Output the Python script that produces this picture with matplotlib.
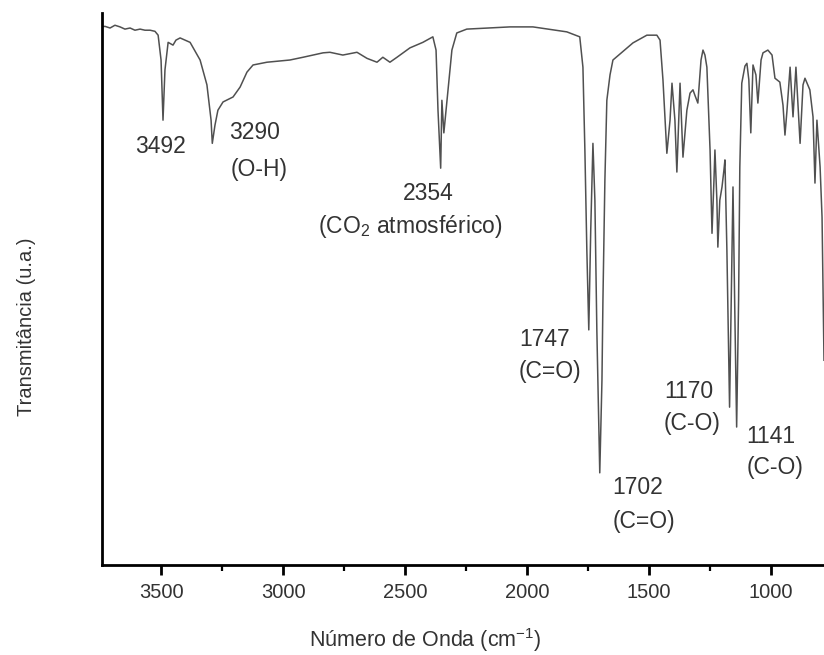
import matplotlib
matplotlib.use('Agg')
import matplotlib.pyplot as plt
from matplotlib.ticker import MultipleLocator

# FTIR spectrum: wavenumber (cm-1) and transmittance (a.u., 0-100)
WAVENUMBER = [
    3744, 3730, 3709, 3689, 3668, 3648, 3627, 3607, 3586, 3566, 3545, 3525, 3512,
    3500, 3492, 3484, 3471, 3451, 3439, 3422, 3381, 3340, 3312, 3295, 3290, 3279,
    3267, 3246, 3205, 3176, 3148, 3123, 3066, 2972, 2918, 2836, 2808, 2755, 2697,
    2656, 2615, 2591, 2562, 2533, 2480, 2427, 2386, 2373, 2365, 2354, 2349, 2341,
    2324, 2308, 2288, 2247, 2070, 1976, 1837, 1784, 1771, 1763, 1755, 1747, 1739,
    1730, 1722, 1714, 1702, 1693, 1689, 1681, 1673, 1660, 1648, 1566, 1509, 1468,
    1455, 1443, 1427, 1414, 1406, 1394, 1386, 1373, 1361, 1345, 1332, 1320, 1312,
    1300, 1287, 1279, 1271, 1263, 1250, 1242, 1234, 1230, 1222, 1218, 1210, 1201,
    1193, 1189, 1181, 1170, 1163, 1156, 1148, 1141, 1133, 1128, 1120, 1107, 1099,
    1091, 1083, 1074, 1062, 1054, 1041, 1033, 1013, 996, 984, 964, 951, 943, 935,
    922, 910, 898, 881, 869, 861, 841, 828, 820, 812, 799, 791, 783,
]
TRANSMITTANCE = [
    97.5, 97.6, 97.3, 97.8, 97.5, 97.1, 97.3, 96.9, 97.1, 96.9, 96.9, 96.7, 96.0,
    91.5, 80.6, 89.7, 94.7, 94.2, 95.1, 95.5, 94.7, 91.5, 87.0, 80.6, 76.4, 79.7,
    82.4, 83.9, 84.8, 86.6, 89.3, 90.6, 91.1, 91.5, 92.0, 92.8, 92.9, 92.4, 92.9,
    91.8, 91.1, 92.0, 91.1, 92.0, 93.7, 94.7, 95.7, 93.3, 82.4, 71.9, 84.2, 78.3,
    86.0, 93.3, 96.4, 97.1, 97.5, 97.5, 96.6, 95.7, 90.2, 75.2, 57.1, 42.6, 60.7,
    76.4, 66.1, 42.6, 16.7, 33.5, 48.0, 69.7, 84.2, 88.8, 91.5, 94.6, 96.0, 96.0,
    95.1, 87.9, 74.6, 80.6, 87.3, 80.6, 71.2, 87.3, 73.9, 82.4, 85.5, 86.1, 85.1,
    83.7, 91.5, 93.3, 92.4, 90.2, 75.2, 60.1, 69.7, 75.2, 66.1, 57.6, 66.1, 68.5,
    71.6, 73.4, 57.1, 28.6, 48.0, 68.5, 44.4, 25.0, 48.0, 72.1, 87.3, 90.4, 90.9,
    87.9, 78.3, 90.6, 88.8, 83.7, 91.5, 92.8, 93.3, 92.4, 88.2, 87.5, 83.3, 77.9, 82.2,
    90.2, 81.2, 90.2, 76.4, 87.0, 88.2, 86.1, 81.2, 69.2, 80.6, 72.1, 63.0, 37.1,
]

# band labels: text, wavenumber position, transmittance position
LABELS = ["3492", "3290", "(O-H)", "2354", "(CO$_2$ atmosférico)",
          "1747", "(C=O)", "1702", "(C=O)", "1170", "(C-O)", "1141", "(C-O)"]
LABEL_WN = [3504, 3115, 3099, 2406, 2480, 1927, 1906, 1545, 1521, 1336, 1324, 1000, 984]
LABEL_T = [75.9, 78.3, 71.6, 67.4, 61.4, 40.8, 35.0, 14.1, 7.8, 31.5, 25.7, 23.2, 17.6]

plt.rcParams['font.family'] = ['Liberation Sans', 'DejaVu Sans']
plt.rcParams['mathtext.default'] = 'regular'

fig = plt.figure(figsize=(8.24, 6.55), dpi=100)
ax = fig.add_axes([0.1232, 0.1374, 0.8768, 0.8426])

ax.plot(WAVENUMBER, TRANSMITTANCE, color='#505050', linewidth=1.1)

ax.set_xlim(3744, 783)
ax.set_ylim(0, 100)

for s in ['top', 'right']:
    ax.spines[s].set_visible(False)
for s in ['left', 'bottom']:
    ax.spines[s].set_linewidth(2.0)
    ax.spines[s].set_color('black')

ax.set_yticks([])
ax.xaxis.set_major_locator(MultipleLocator(500))
ax.xaxis.set_minor_locator(MultipleLocator(250))
ax.tick_params(axis='x', which='major', direction='out', length=7, width=2.0,
               labelsize=14.5, pad=6, colors='black')
ax.tick_params(axis='x', which='minor', direction='out', length=4, width=1.6)
for lbl in ax.get_xticklabels():
    lbl.set_color('#333333')

for txt, x, y in zip(LABELS, LABEL_WN, LABEL_T):
    ax.text(x, y, txt, ha='center', va='center', fontsize=16.5, color='#333333')

fig.text(425 / 824, 1 - 640 / 655, "Número de Onda (cm$^{-1}$)", ha='center', va='center',
         fontsize=15.5, color='#333333')
fig.text(27 / 824, 1 - 327 / 655, "Transmitância (u.a.)", ha='center', va='center',
         rotation=90, fontsize=14.5, color='#333333')

fig.savefig('out.png', dpi=100)
